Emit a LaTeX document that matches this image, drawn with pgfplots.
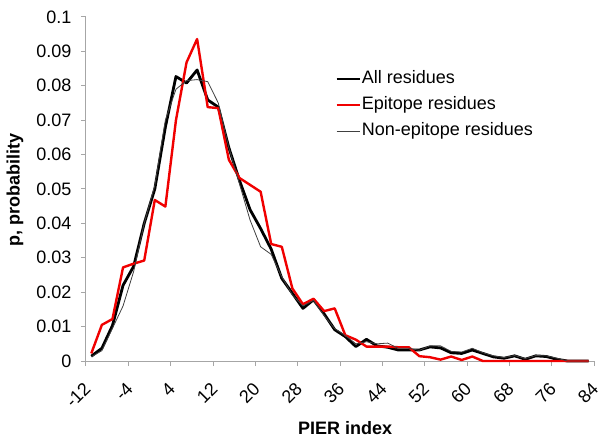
\documentclass[border=0pt]{standalone}
\usepackage{fontspec}
\setmainfont{Liberation Sans}
\usepackage{pgfplots}
\pgfplotsset{compat=1.18}
\definecolor{axisgray}{HTML}{A6A6A6}
\definecolor{epired}{HTML}{F00000}
\begin{document}
\begin{tikzpicture}
\begin{axis}[
  scale only axis,
  width=508pt, height=344pt,
  xmin=-12, xmax=84, ymin=0, ymax=0.1,
  clip=false,
  axis x line*=bottom, axis y line*=left,
  axis line style={draw=axisgray, line width=1pt, -},
  tick style={draw=axisgray, line width=1pt},
  tick align=outside, major tick length=5pt,
  xtick={-12,-4,4,12,20,28,36,44,52,60,68,76,84},
  xticklabels={-12,-4,4,12,20,28,36,44,52,60,68,76,84},
  ytick={0,0.01,0.02,0.03,0.04,0.05,0.06,0.07,0.08,0.09,0.1},
  yticklabels={0,0.01,0.02,0.03,0.04,0.05,0.06,0.07,0.08,0.09,0.1},
  tick label style={font=\fontsize{18}{18}\selectfont, black},
  xticklabel style={yshift=-19pt, xshift=2pt, rotate=45, anchor=east, inner sep=1pt},
  yticklabel style={anchor=east, xshift=-6pt},
  xlabel={\textbf{PIER index}},
  ylabel={\textbf{p, probability}},
  label style={font=\fontsize{18}{18}\selectfont},
  xlabel style={at={(axis description cs:0.510,-0.214)}, anchor=base},
  ylabel style={at={(axis description cs:-0.1398,0.497)}, anchor=center},
  legend style={at={(axis description cs:0.490,0.848)}, anchor=north west,
    draw=none, fill=none, font=\fontsize{18}{18}\selectfont,
    row sep=7pt, column sep=0pt, inner sep=0pt,
    nodes={text height=13pt, text depth=4pt, inner sep=1pt}},
  legend cell align=left,
  legend image code/.code={\draw[#1] (0pt,0pt) -- (23pt,0pt);},
  line join=round,
]
\addplot[black, line width=2.8pt] coordinates {
(-11,0.0014)(-9,0.0037)(-7,0.0103)(-5,0.0220)(-3,0.0275)(-1,0.0400)
(1,0.0500)(3,0.0680)(5,0.0827)(7,0.0808)(9,0.0846)(11,0.0759)
(13,0.0738)(15,0.0620)(17,0.0525)(19,0.0440)(21,0.0385)(23,0.0325)
(25,0.0240)(27,0.0197)(29,0.0153)(31,0.0178)(33,0.0137)(35,0.0091)
(37,0.0071)(39,0.0042)(41,0.0063)(43,0.0044)(45,0.0040)(47,0.0032)
(49,0.0032)(51,0.0032)(53,0.0041)(55,0.0038)(57,0.0024)(59,0.0022)
(61,0.0032)(63,0.0022)(65,0.0012)(67,0.0008)(69,0.0015)(71,0.0005)
(73,0.0015)(75,0.0013)(77,0.0005)(79,0)(81,0)(83,0)};
\addlegendentry{All residues}
\addplot[epired, line width=2.4pt] coordinates {
(-11,0.0022)(-9,0.0105)(-7,0.0122)(-5,0.0272)(-3,0.0283)(-1,0.0292)
(1,0.0468)(3,0.0449)(5,0.0700)(7,0.0868)(9,0.0936)(11,0.0738)
(13,0.0735)(15,0.0585)(17,0.0532)(19,0.0512)(21,0.0492)(23,0.0340)
(25,0.0332)(27,0.0211)(29,0.0165)(31,0.0181)(33,0.0145)(35,0.0153)
(37,0.0075)(39,0.0062)(41,0.0042)(43,0.0042)(45,0.0042)(47,0.0040)
(49,0.0040)(51,0.0014)(53,0.0011)(55,0.0004)(57,0.0013)(59,0.0003)
(61,0.0013)(63,0)(65,0)(67,0)(69,0)(71,0)
(73,0)(75,0)(77,0)(79,0)(81,0)(83,0)};
\addlegendentry{Epitope residues}
\addplot[black!75, line width=0.8pt] coordinates {
(-11,0.0012)(-9,0.0030)(-7,0.0095)(-5,0.0160)(-3,0.0260)(-1,0.0400)
(1,0.0510)(3,0.0700)(5,0.0790)(7,0.0815)(9,0.0818)(11,0.0812)
(13,0.0750)(15,0.0620)(17,0.0515)(19,0.0410)(21,0.0332)(23,0.0310)
(25,0.0245)(27,0.0192)(29,0.0160)(31,0.0176)(33,0.0132)(35,0.0094)
(37,0.0074)(39,0.0050)(41,0.0056)(43,0.0050)(45,0.0052)(47,0.0037)
(49,0.0037)(51,0.0031)(53,0.0044)(55,0.0044)(57,0.0028)(59,0.0026)
(61,0.0037)(63,0.0024)(65,0.0015)(67,0.0010)(69,0.0016)(71,0.0007)
(73,0.0016)(75,0.0015)(77,0.0008)(79,0)(81,0)(83,0)};
\addlegendentry{Non-epitope residues}
\coordinate (BL) at (axis cs:-28.252,-0.022384);
\coordinate (TR) at (axis cs:85.134,0.104942);
\end{axis}
\pgfresetboundingbox
\path[use as bounding box] (BL) rectangle (TR);
\end{tikzpicture}
\end{document}
